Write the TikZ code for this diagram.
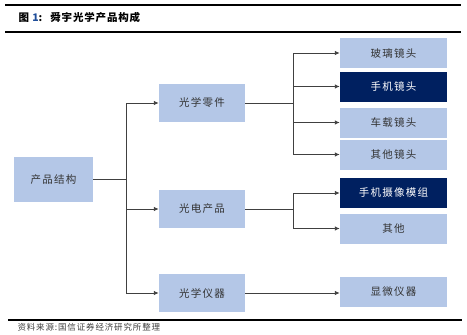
\documentclass[tikz,border=0pt]{standalone}
\usepackage{fontspec}
\usepackage{tikz}
\usetikzlibrary{arrows.meta}
\setmainfont{Liberation Sans}
\newfontfamily\cjk[LetterSpace=12]{Noto Sans CJK SC}
\newfontfamily\cjktitle[LetterSpace=8]{Noto Sans CJK SC}
\newfontfamily\cjksource[LetterSpace=10]{Noto Sans CJK SC}
\definecolor{boxblue}{HTML}{B4C7E7}
\definecolor{boxnavy}{HTML}{002060}
\definecolor{linegray}{HTML}{404040}
\definecolor{numblue}{HTML}{1F4E9A}

\begin{document}
\begin{tikzpicture}[x=1pt,y=-1pt,
  lightbox/.style={fill=boxblue,inner sep=0pt,font=\cjk\fontsize{10.5}{12}\selectfont,text=black!80},
  darkbox/.style={fill=boxnavy,inner sep=0pt,font=\cjk\fontsize{10.5}{12}\selectfont,text=white},
  link/.style={linegray,line width=0.9pt},
  arr/.style={link,-{Latex[length=5pt,width=4.5pt]}}]
  \useasboundingbox (0,0) rectangle (467,335);
  % rules, title and source
  \draw[line width=1.2pt] (5,5) -- (461,5);
  \draw[line width=1.2pt] (5,32) -- (461,32);
  \draw[line width=1.2pt] (8,320) -- (462,320);
  \node[anchor=west,font=\cjktitle\bfseries\fontsize{10.5}{12}\selectfont] (title) at (15,17)
    {图 {\color{numblue}1}:\hspace{8pt}舜宇光学产品构成};
  \node[anchor=west,font=\cjksource\fontsize{8.5}{10}\selectfont,text=black!75] (source) at (14,327)
    {资料来源:国信证券经济研究所整理};
  % boxes
  \node[lightbox,minimum width=79pt,minimum height=45pt] (root) at (53.5,179.5) {产品结构};
  \node[lightbox,minimum width=86pt,minimum height=38pt] (optpart) at (202,103) {光学零件};
  \node[lightbox,minimum width=86pt,minimum height=38pt] (optelec) at (202,209) {光电产品};
  \node[lightbox,minimum width=86pt,minimum height=38pt] (optinst) at (202,293) {光学仪器};
  \node[lightbox,minimum width=107pt,minimum height=30pt] (glass) at (393.5,53) {玻璃镜头};
  \node[darkbox,minimum width=107pt,minimum height=30pt] (phonelens) at (393.5,86.5) {手机镜头};
  \node[lightbox,minimum width=107pt,minimum height=30pt] (carlens) at (393.5,122.5) {车载镜头};
  \node[lightbox,minimum width=107pt,minimum height=30pt] (otherlens) at (393.5,154.5) {其他镜头};
  \node[darkbox,minimum width=107pt,minimum height=30pt] (cammod) at (393.5,193) {手机摄像模组};
  \node[lightbox,minimum width=107pt,minimum height=30pt] (other) at (393.5,228.5) {其他};
  \node[lightbox,minimum width=107pt,minimum height=30pt] (micro) at (393.5,292) {显微仪器};
  % connectors
  \coordinate (trunk) at (126,179.5);
  \coordinate (forkpart) at (293,103);
  \coordinate (forkelec) at (293,209);
  \draw[link] (root.east) -- (trunk);
  \draw[arr] (trunk) |- (optpart.west);
  \draw[arr] (trunk) |- (optelec.west);
  \draw[arr] (trunk) |- (optinst.west);
  \draw[link] (optpart.east) -- (forkpart);
  \foreach \leaf in {glass,phonelens,carlens,otherlens}
    \draw[arr] (forkpart) |- (\leaf.west);
  \draw[link] (optelec.east) -- (forkelec);
  \draw[arr] (forkelec) |- (cammod.west);
  \draw[arr] (forkelec) |- (other.west);
  \draw[arr] (optinst.east) -- (micro.west |- optinst.east);
\end{tikzpicture}
\end{document}
